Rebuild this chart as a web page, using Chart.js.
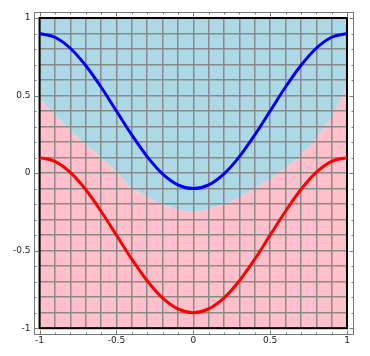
<!DOCTYPE html>
<html>
<head>
<meta charset="UTF-8">
<title>cos curves</title>
<script src="https://cdn.jsdelivr.net/npm/chart.js"></script>
<style>
  html, body { margin: 0; padding: 0; background: #fff; }
  #wrap { width: 370px; height: 356px; }
</style>
</head>
<body>
<div id="wrap"><canvas id="plot"></canvas></div>
<script>
// values, x from -1 to 1 in steps of 0.1
const xs = [-1, -0.9, -0.8, -0.7, -0.6, -0.5, -0.4, -0.3, -0.2, -0.1, 0,
            0.1, 0.2, 0.3, 0.4, 0.5, 0.6, 0.7, 0.8, 0.9, 1];
const blueCurve = [0.9, 0.876, 0.805, 0.694, 0.555, 0.4, 0.246, 0.106, -0.005, -0.076, -0.1,
                   -0.076, -0.005, 0.106, 0.246, 0.4, 0.555, 0.694, 0.805, 0.876, 0.9];
const redCurve = [0.1, 0.076, 0.005, -0.106, -0.246, -0.4, -0.555, -0.694, -0.805, -0.876, -0.9,
                  -0.876, -0.805, -0.694, -0.555, -0.4, -0.246, -0.106, 0.005, 0.076, 0.1];
// edge between the pink area (below) and the light blue area (above)
const fillBoundary = [0.476, 0.377, 0.275, 0.184, 0.098, 0.005, -0.096, -0.152, -0.204, -0.234, -0.25,
                      -0.232, -0.2, -0.157, -0.096, -0.038, 0.034, 0.113, 0.225, 0.36, 0.555];
const tickValues = [-1, -0.5, 0, 0.5, 1];
const tickLabels = ['-1', '-0.5', '0', '0.5', '1'];

const pts = ys => xs.map((x, i) => ({ x: x, y: ys[i] }));

function labelFor(v) {
    for (let i = 0; i < tickValues.length; i++) {
        if (Math.abs(v - tickValues[i]) < 1e-6) return tickLabels[i];
    }
    return '';
}
function isMajor(v) {
    return labelFor(v) !== '';
}

// the fills would hide the grid, so draw it again once they are down
const gridOverFill = {
    id: 'gridOverFill',
    afterDatasetDraw(chart, args) {
        if (args.index !== 2) return;
        const a = chart.chartArea;
        chart.scales.x.drawGrid(a);
        chart.scales.y.drawGrid(a);
        const ctx = chart.ctx;
        ctx.save();
        ctx.strokeStyle = '#000';
        ctx.lineWidth = 2;
        ctx.strokeRect(a.left, a.top, a.right - a.left, a.bottom - a.top);
        ctx.restore();
    }
};

// gray frame a little outside the plot with inward ticks
const frame = {
    id: 'frame',
    afterDraw(chart) {
        const ctx = chart.ctx;
        const a = chart.chartArea;
        const sx = chart.scales.x, sy = chart.scales.y;
        const off = 6;
        const L = Math.round(a.left - off) + 0.5, R = Math.round(a.right + off) + 0.5;
        const T = Math.round(a.top - off) + 0.5, B = Math.round(a.bottom + off) + 0.5;
        ctx.save();
        ctx.strokeStyle = '#777';
        ctx.lineWidth = 1;
        ctx.strokeRect(L, T, R - L, B - T);
        ctx.beginPath();
        sx.ticks.forEach(t => {
            const p = Math.round(sx.getPixelForValue(t.value)) + 0.5;
            const len = isMajor(t.value) ? 4 : 2;
            ctx.moveTo(p, B); ctx.lineTo(p, B - len);
            ctx.moveTo(p, T); ctx.lineTo(p, T + len);
        });
        sy.ticks.forEach(t => {
            const p = Math.round(sy.getPixelForValue(t.value)) + 0.5;
            const len = isMajor(t.value) ? 4 : 2;
            ctx.moveTo(L, p); ctx.lineTo(L + len, p);
            ctx.moveTo(R, p); ctx.lineTo(R - len, p);
        });
        ctx.stroke();
        ctx.restore();
    }
};

function axisOpts(pad) {
    return {
        type: 'linear',
        min: -1,
        max: 1,
        grid: { color: '#8a8a8a', lineWidth: 1.5, drawTicks: false },
        border: { display: false },
        ticks: {
            stepSize: 0.1,
            autoSkip: false,
            maxRotation: 0,
            padding: pad,
            color: '#222',
            font: { family: 'DejaVu Sans', size: 9 },
            callback: labelFor
        }
    };
}

function series(ys, color, fill, order) {
    return {
        data: pts(ys),
        showLine: true,
        borderColor: fill ? 'rgba(0,0,0,0)' : color,
        borderWidth: fill ? 0 : 3,
        backgroundColor: color,
        pointRadius: 0,
        cubicInterpolationMode: 'monotone',
        fill: fill || false,
        order: order
    };
}

new Chart(document.getElementById('plot'), {
    type: 'scatter',
    data: {
        datasets: [
            series(blueCurve, '#0000ff', null, 0),
            series(redCurve, '#ff0000', null, 1),
            series(fillBoundary, '#ffc0cb', 'start', 2),
            series(fillBoundary, '#add8e6', 'end', 3)
        ]
    },
    options: {
        responsive: true,
        maintainAspectRatio: false,
        animation: false,
        layout: { padding: { left: 4, right: 23, top: 18, bottom: 3 } },
        plugins: { legend: { display: false }, tooltip: { enabled: false } },
        scales: {
            x: axisOpts(7),
            y: axisOpts(9)
        }
    },
    plugins: [gridOverFill, frame]
});
</script>
</body>
</html>
